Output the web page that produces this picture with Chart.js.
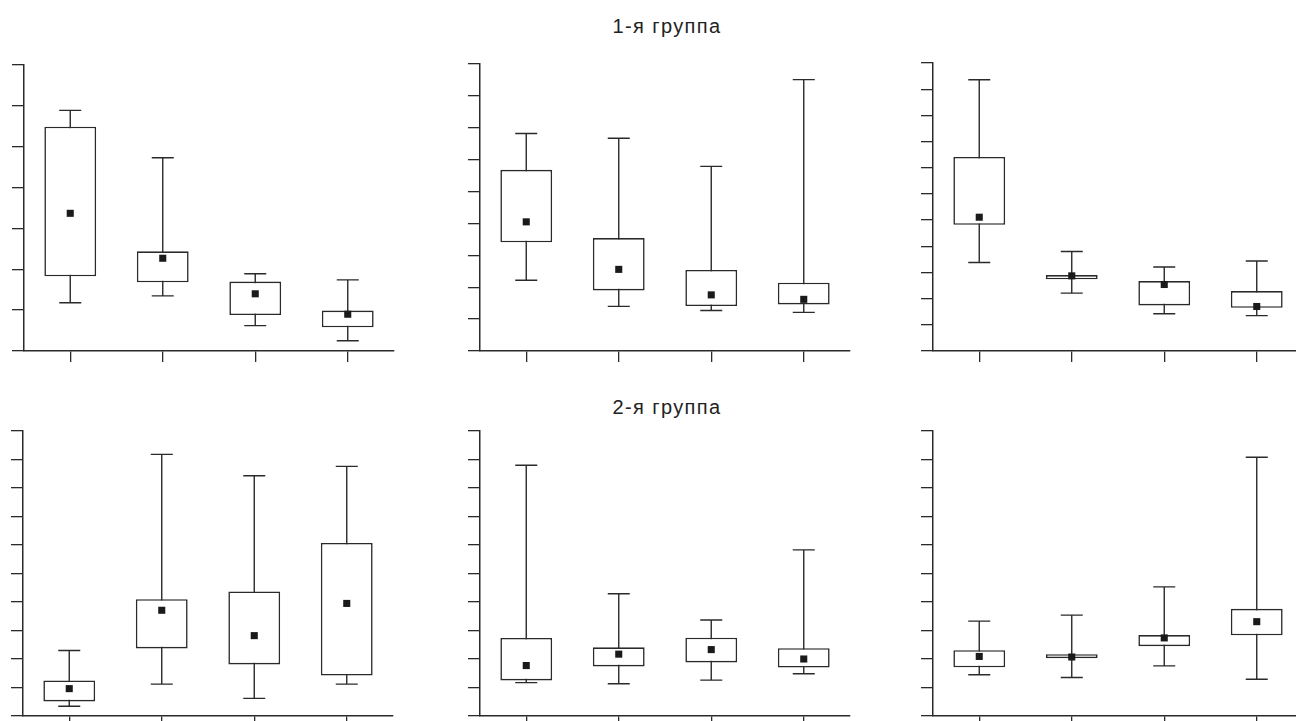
<!DOCTYPE html>
<html>
<head>
<meta charset="utf-8">
<title>Box plots</title>
<script src="https://cdn.jsdelivr.net/npm/chart.js"></script>
<style>
  html, body { margin: 0; padding: 0; background: #fff; overflow: hidden; }
  body { width: 1296px; height: 721px; position: relative; }
  canvas { position: absolute; }
  .title {
    position: absolute; left: 567px; width: 200px; text-align: center;
    font-family: "Liberation Sans", Arial, sans-serif; font-size: 20px; line-height: 20px;
    letter-spacing: 1.4px; color: #222;
  }
</style>
</head>
<body>
<div class="title" style="top:16px">1-я группа</div>
<div class="title" style="top:397px">2-я группа</div>

<canvas id="p1"></canvas>
<canvas id="p2"></canvas>
<canvas id="p3"></canvas>
<canvas id="p4"></canvas>
<canvas id="p5"></canvas>
<canvas id="p6"></canvas>

<script>
// four groups per panel, no visible tick labels
const categories = ['1', '2', '3', '4'];

// y axis top (in tick steps) for each panel
const yMax = [7, 9, 11, 10, 10, 10];

// 1-я группа, panel 1
const p1Min  = [1.18, 1.35, 0.62, 0.25];
const p1Q1   = [1.83, 1.68, 0.88, 0.58];
const p1Mean = [3.37, 2.27, 1.40, 0.90];
const p1Q3   = [5.49, 2.44, 1.70, 0.99];
const p1Max  = [5.89, 4.73, 1.89, 1.74];

// panel 2
const p2Min  = [2.22, 1.40, 1.27, 1.21];
const p2Q1   = [3.41, 1.90, 1.41, 1.46];
const p2Mean = [4.05, 2.56, 1.76, 1.62];
const p2Q3   = [5.68, 3.54, 2.54, 2.14];
const p2Max  = [6.82, 6.67, 5.79, 8.51];

// panel 3
const p3Min  = [3.38, 2.21, 1.42, 1.35];
const p3Q1   = [4.82, 2.74, 1.74, 1.65];
const p3Mean = [5.11, 2.87, 2.54, 1.70];
const p3Q3   = [7.41, 2.90, 2.67, 2.29];
const p3Max  = [10.36, 3.80, 3.21, 3.44];

// 2-я группа, panel 4
const p4Min  = [0.34, 1.12, 0.62, 1.12];
const p4Q1   = [0.51, 2.37, 1.81, 1.42];
const p4Mean = [0.96, 3.71, 2.82, 3.95];
const p4Q3   = [1.25, 4.10, 4.37, 6.07];
const p4Max  = [2.30, 9.18, 8.43, 8.76];

// panel 5
const p5Min  = [1.17, 1.13, 1.26, 1.48];
const p5Q1   = [1.25, 1.74, 1.88, 1.70];
const p5Mean = [1.77, 2.17, 2.33, 2.00];
const p5Q3   = [2.74, 2.41, 2.75, 2.38];
const p5Max  = [8.80, 4.29, 3.37, 5.83];

// panel 6
const p6Min  = [1.45, 1.35, 1.76, 1.29];
const p6Q1   = [1.71, 2.03, 2.45, 2.83];
const p6Mean = [2.09, 2.07, 2.74, 3.31];
const p6Q3   = [2.31, 2.17, 2.84, 3.76];
const p6Max  = [3.33, 3.54, 4.53, 9.08];

const ink = '#2a2a2a';

// whiskers: vertical line min..max with caps, drawn under the boxes
const whiskerPlugin = {
  id: 'whiskers',
  beforeDatasetsDraw(chart) {
    const w = chart.options.plugins.whiskers;
    const x = chart.scales.x, y = chart.scales.y;
    const ctx = chart.ctx;
    ctx.save();
    ctx.strokeStyle = ink;
    ctx.lineWidth = 1.4;
    w.min.forEach((lo, i) => {
      const px = x.getPixelForValue(i);
      const yLo = y.getPixelForValue(lo);
      const yHi = y.getPixelForValue(w.max[i]);
      ctx.beginPath();
      ctx.moveTo(px, yLo); ctx.lineTo(px, yHi);
      ctx.moveTo(px - 11, yLo); ctx.lineTo(px + 11, yLo);
      ctx.moveTo(px - 11, yHi); ctx.lineTo(px + 11, yHi);
      ctx.stroke();
    });
    ctx.restore();
  }
};

// left, top, width, height of the plot area on the page
const panels = [
  { id: 'p1', area: [24, 64, 371, 287],  min: p1Min, q1: p1Q1, mean: p1Mean, q3: p1Q3, max: p1Max },
  { id: 'p2', area: [480, 63, 371, 288], min: p2Min, q1: p2Q1, mean: p2Mean, q3: p2Q3, max: p2Max },
  { id: 'p3', area: [933, 62, 371, 289], min: p3Min, q1: p3Q1, mean: p3Mean, q3: p3Q3, max: p3Max },
  { id: 'p4', area: [23, 430, 371, 286], min: p4Min, q1: p4Q1, mean: p4Mean, q3: p4Q3, max: p4Max },
  { id: 'p5', area: [480, 430, 371, 286], min: p5Min, q1: p5Q1, mean: p5Mean, q3: p5Q3, max: p5Max },
  { id: 'p6', area: [933, 430, 371, 286], min: p6Min, q1: p6Q1, mean: p6Mean, q3: p6Q3, max: p6Max }
];

const yTick = 12, xTick = 11, padTop = 4, padRight = 4, padBottom = 2;

panels.forEach((p, n) => {
  const [l, t, w, h] = p.area;
  const canvas = document.getElementById(p.id);
  canvas.width = yTick + w + padRight;
  canvas.height = padTop + h + xTick + padBottom;
  canvas.style.left = (l - yTick) + 'px';
  canvas.style.top = (t - padTop) + 'px';

  new Chart(canvas, {
    type: 'bar',
    data: {
      labels: categories,
      datasets: [
        {
          type: 'line',
          data: p.mean,
          showLine: false,
          pointStyle: 'rect',
          pointRadius: 5,
          pointHoverRadius: 5,
          pointBackgroundColor: '#1a1a1a',
          pointBorderWidth: 0,
          order: 0
        },
        {
          data: p.q1.map((v, i) => [v, p.q3[i]]),
          backgroundColor: '#ffffff',
          borderColor: ink,
          borderWidth: 1.6,
          borderSkipped: false,
          barPercentage: 0.56,
          categoryPercentage: 1,
          order: 1
        }
      ]
    },
    plugins: [whiskerPlugin],
    options: {
      responsive: false,
      animation: false,
      devicePixelRatio: 1,
      layout: { padding: { top: padTop, right: padRight, bottom: padBottom, left: 0 } },
      plugins: {
        legend: { display: false },
        tooltip: { enabled: false },
        whiskers: { min: p.min, max: p.max }
      },
      scales: {
        x: {
          offset: true,
          ticks: { display: false },
          grid: { display: true, drawOnChartArea: false, drawTicks: true, tickLength: xTick, offset: false, color: ink, lineWidth: 1.3 },
          border: { display: true, color: ink, width: 1.5 }
        },
        y: {
          min: 0,
          max: yMax[n],
          ticks: { display: false, stepSize: 1 },
          grid: { display: true, drawOnChartArea: false, drawTicks: true, tickLength: yTick, color: ink, lineWidth: 1.3 },
          border: { display: true, color: ink, width: 1.5 }
        }
      }
    }
  });
});
</script>
</body>
</html>
